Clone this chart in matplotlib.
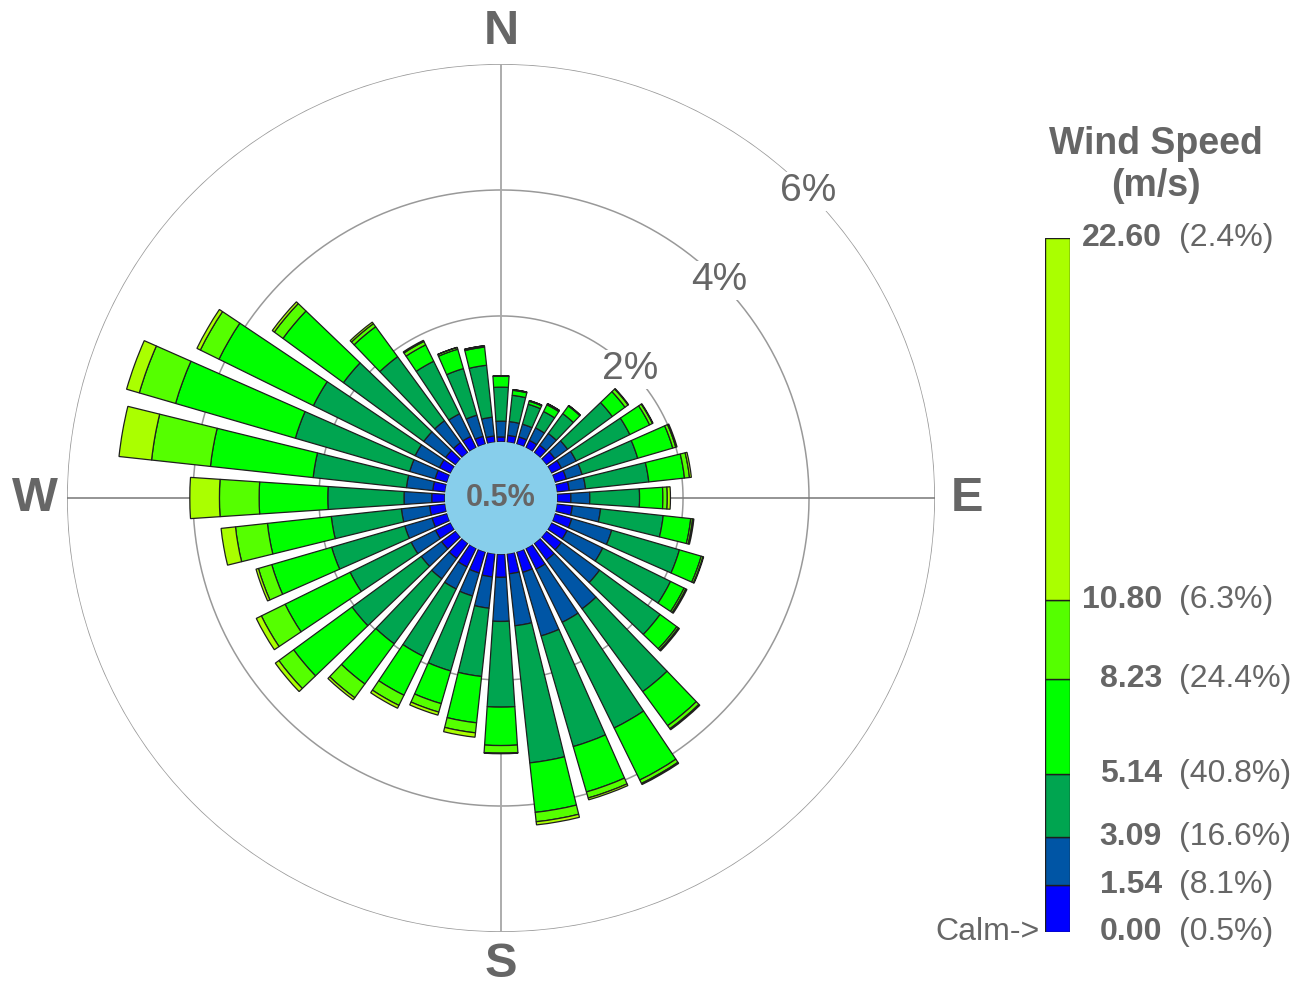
import numpy as np
import matplotlib.pyplot as plt
from matplotlib.transforms import blended_transform_factory

# wind directions (degrees, clockwise from north)
directions = np.arange(0, 360, 10)

# frequency (%) of each speed bin per direction
bin_0_154 = [0.08, 0.11, 0.12, 0.13, 0.15, 0.17, 0.18, 0.19, 0.20, 0.22, 0.25, 0.28,
             0.28, 0.30, 0.33, 0.37, 0.34, 0.32, 0.37, 0.37, 0.35, 0.33, 0.30, 0.28,
             0.27, 0.25, 0.25, 0.21, 0.20, 0.20, 0.20, 0.20, 0.20, 0.20, 0.13, 0.10]
bin_154_309 = [0.25, 0.22, 0.21, 0.22, 0.23, 0.25, 0.26, 0.26, 0.26, 0.30, 0.45, 0.66,
               0.63, 0.75, 0.96, 0.94, 1.05, 0.83, 0.70, 0.50, 0.38, 0.39, 0.40, 0.40,
               0.43, 0.45, 0.45, 0.44, 0.42, 0.42, 0.43, 0.43, 0.43, 0.40, 0.35, 0.30]
bin_309_514 = [0.54, 0.42, 0.33, 0.29, 0.39, 0.88, 0.95, 0.92, 1.01, 0.79, 1.00, 1.12,
               1.20, 1.19, 1.63, 1.87, 1.83, 2.19, 1.36, 1.09, 1.24, 1.19, 1.28, 1.36,
               1.08, 1.21, 1.12, 1.21, 1.49, 1.89, 1.80, 1.58, 1.26, 0.93, 0.77, 0.83]
bin_514_823 = [0.18, 0.08, 0.05, 0.12, 0.15, 0.25, 0.35, 0.58, 0.57, 0.37, 0.44, 0.36,
               0.24, 0.33, 0.67, 0.92, 0.75, 0.79, 0.61, 0.74, 0.54, 0.69, 0.79, 1.15,
               1.15, 0.99, 1.02, 1.09, 1.64, 1.98, 1.67, 1.19, 0.59, 0.29, 0.32, 0.29]
bin_823_1080 = [0.00, 0.01, 0.01, 0.02, 0.01, 0.06, 0.05, 0.05, 0.08, 0.07, 0.03, 0.03,
                0.03, 0.03, 0.06, 0.06, 0.10, 0.15, 0.12, 0.16, 0.14, 0.18, 0.27, 0.29,
                0.42, 0.22, 0.51, 0.63, 0.94, 0.60, 0.33, 0.17, 0.06, 0.06, 0.03, 0.02]
bin_1080_2260 = [0.00, 0.00, 0.00, 0.00, 0.00, 0.01, 0.01, 0.02, 0.03, 0.05, 0.02, 0.01,
                 0.02, 0.02, 0.02, 0.02, 0.03, 0.05, 0.01, 0.07, 0.05, 0.05, 0.04, 0.07,
                 0.09, 0.04, 0.23, 0.47, 0.52, 0.21, 0.06, 0.04, 0.03, 0.02, 0.00, 0.00]

speed_edges = [0.00, 1.54, 3.09, 5.14, 8.23, 10.80, 22.60]
speed_labels = ['0.00', '1.54', '3.09', '5.14', '8.23', '10.80', '22.60']
bin_share = ['(0.5%)', '(8.1%)', '(16.6%)', '(40.8%)', '(24.4%)', '(6.3%)', '(2.4%)']
calm_pct = 0.5
ring_pcts = [2, 4, 6]

colors = ['#0000FF', '#0055A5', '#00A550', '#00FF00', '#55FF00', '#AAFF00']
bins = [bin_0_154, bin_154_309, bin_309_514, bin_514_823, bin_823_1080, bin_1080_2260]

TXT = '#666666'
plt.rcParams['font.family'] = ['Liberation Sans', 'DejaVu Sans']

W, H = 1309, 985
fig = plt.figure(figsize=(W / 100, H / 100), dpi=100)

# polar axes: centre at (501, 498) px, outer ring radius ~434 px
cx, cy, rad = 501, 498, 434
ax = fig.add_axes([(cx - rad) / W, (H - cy - rad) / H, 2 * rad / W, 2 * rad / H],
                  projection='polar')
ax.set_theta_zero_location('N')
ax.set_theta_direction(-1)

off = 0.89  # radius of the calm circle, in % units
ax.set_ylim(0, off + ring_pcts[-1])
ax.grid(False)
ax.spines['polar'].set_visible(False)
ax.set_xticks([])
ax.set_yticks([])
ax.patch.set_alpha(0)

# rings and spokes
tt = np.linspace(0, 2 * np.pi, 400)
for p in ring_pcts:
    ax.plot(tt, np.full_like(tt, off + p), color='#999999', lw=1.1, zorder=1)
ax.plot([0, np.pi], [off + 6, off + 6], color='#aaaaaa', lw=1.1, zorder=1)
for a, c in [(0, '#aaaaaa'), (90, '#777777'), (180, '#aaaaaa'), (270, '#777777')]:
    ax.plot([np.deg2rad(a)] * 2, [0, off + ring_pcts[-1]], color=c, lw=1.1, zorder=1)

# stacked bars
theta = np.deg2rad(directions)
width = np.deg2rad(7.6)
bottom = np.full(len(directions), off)
for vals, c in zip(bins, colors):
    vals = np.array(vals)
    ax.bar(theta, vals, width=width, bottom=bottom, color=c,
           edgecolor='#1e1e1e', linewidth=0.9, zorder=3)
    bottom = bottom + vals

# calm circle
ax.bar(0, off, width=2 * np.pi, bottom=0, color='#87CEEB', edgecolor='none', zorder=4)
ax.text(0, 0, f'{calm_pct}%', ha='center', va='center', fontsize=22,
        fontweight='bold', color=TXT, zorder=5)

# ring labels
for p in ring_pcts:
    ax.text(np.deg2rad(45), off + p, f'{p}%', ha='center', va='center', fontsize=28,
            color=TXT, zorder=2,
            bbox=dict(facecolor='white', edgecolor='none', pad=1))

# compass labels
rl = 7.4
for a, s in zip([0, 90, 180, 270], ['N', 'E', 'S', 'W']):
    ax.text(np.deg2rad(a), rl, s, ha='center', va='center', fontsize=35,
            fontweight='bold', color=TXT, clip_on=False)

# legend colour bar (linear in wind speed)
lx0, lx1, ly0, ly1 = 1045, 1070, 238, 932
cax = fig.add_axes([lx0 / W, (H - ly1) / H, (lx1 - lx0) / W, (ly1 - ly0) / H])
for i, c in enumerate(colors):
    cax.bar(0, speed_edges[i + 1] - speed_edges[i], bottom=speed_edges[i], width=1,
            color=c, edgecolor='#1e1e1e', linewidth=1.0)
cax.set_xlim(-0.5, 0.5)
cax.set_ylim(speed_edges[0], speed_edges[-1])
cax.axis('off')

tr = blended_transform_factory(fig.transFigure, cax.transData)
for v, lab, sh in zip(speed_edges, speed_labels, bin_share):
    cax.text(1162 / W, v, lab, transform=tr, ha='right', va='center', fontsize=23,
             fontweight='bold', color=TXT, clip_on=False)
    cax.text(1179 / W, v, sh, transform=tr, ha='left', va='center', fontsize=23,
             color=TXT, clip_on=False)
cax.text(1040 / W, speed_edges[0], 'Calm->', transform=tr, ha='right', va='center',
         fontsize=23, color=TXT, clip_on=False)

fig.text(1156 / W, 1 - 165 / H, 'Wind Speed\n(m/s)', ha='center', va='center',
         fontsize=27, fontweight='bold', color=TXT, linespacing=1.2)

fig.savefig('out.png', dpi=100)
